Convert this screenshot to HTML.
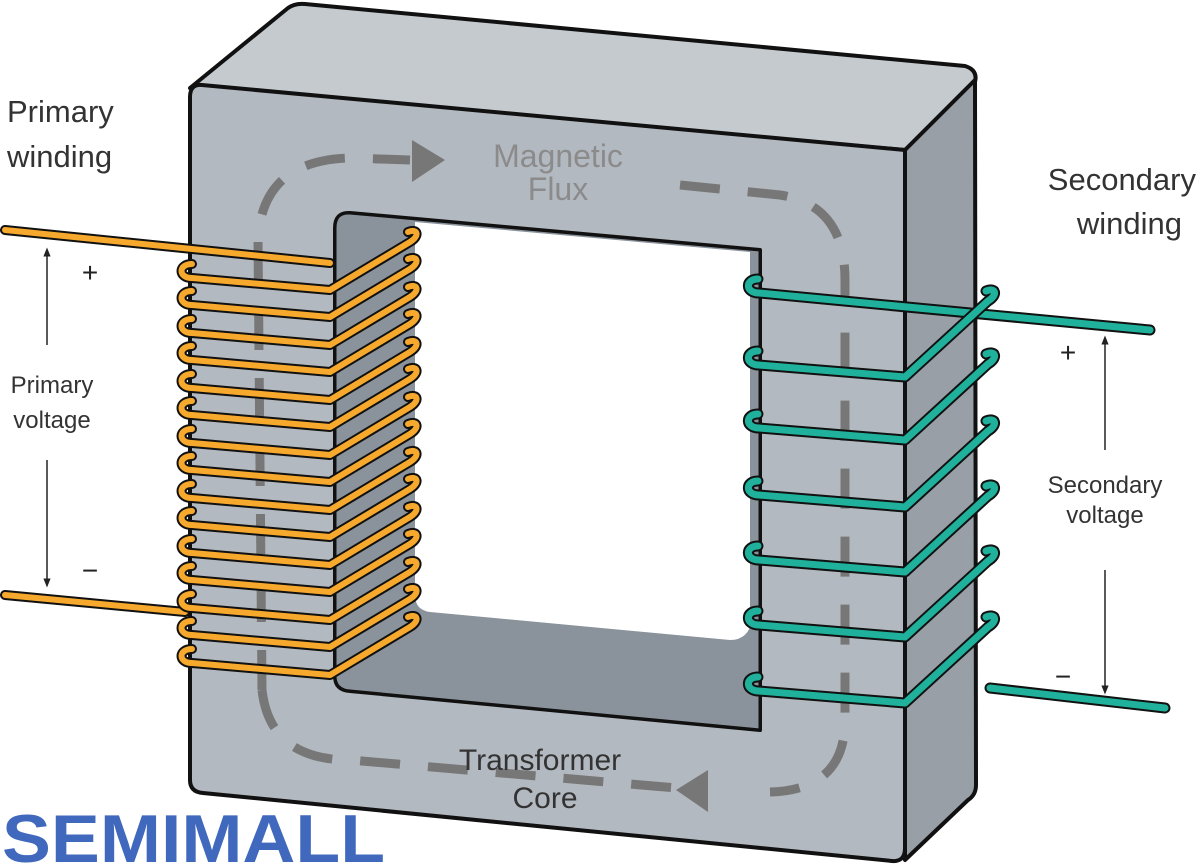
<!DOCTYPE html>
<html><head><meta charset="utf-8"><style>
html,body{margin:0;padding:0;background:#fff;}
svg{display:block;}
text{font-family:"Liberation Sans",sans-serif;}
</style></head><body>
<svg width="1200" height="866" viewBox="0 0 1200 866" xmlns="http://www.w3.org/2000/svg">
<defs>
<marker id="ah" viewBox="0 0 10 10" refX="5" refY="5" markerWidth="6" markerHeight="8" orient="auto"><path d="M0,1 L10,5 L0,9 Z" fill="#222"/></marker>
<g id="pt">
 <path d="M192,-6 C178,-6 178,8 192,8 L330,20 L410,-28 C420,-34 418,-42 408,-38" fill="none" stroke="#111" stroke-width="10" stroke-linejoin="round" stroke-linecap="round"/>
 <path d="M192,-6 C178,-6 178,8 192,8 L330,20 L410,-28 C420,-34 418,-42 408,-38" fill="none" stroke="#f6a92d" stroke-width="6" stroke-linejoin="round" stroke-linecap="round"/>
</g>
<g id="st">
 <path d="M758,-6 C745,-6 745,8 759,8 L905,20 L988,-56 C998,-62 996,-70 986,-66" fill="none" stroke="#111" stroke-width="11" stroke-linejoin="round" stroke-linecap="round"/>
 <path d="M758,-6 C745,-6 745,8 759,8 L905,20 L988,-56 C998,-62 996,-70 986,-66" fill="none" stroke="#1fb19b" stroke-width="7" stroke-linejoin="round" stroke-linecap="round"/>
</g>
</defs>
<path d="M190,88 L288,8 Q295,3 305,4 L965,66 Q978,70 975,82 L905,150 Z" fill="#c5cacf" stroke="#111" stroke-width="4" stroke-linejoin="round"/>
<path d="M905,150 L975,80 L976,785 Q976,795 968,800 L905,860 Z" fill="#989fa7" stroke="#111" stroke-width="4" stroke-linejoin="round"/>
<path fill-rule="evenodd" d="M202,85 L905,150 L905,848 Q905,862 892,861 L203,793 Q190,792 190,780 L190,97 Q190,84 202,85 Z M350,213 Q335,212 335,228 L335,676 Q335,690 350,691 L760,730 L760,250 Z" fill="#b3b9c0" stroke="#111" stroke-width="4" stroke-linejoin="round"/>
<path d="M335,228 Q335,212 350,213 L760,250 L760,730 L350,691 Q335,690 335,676 Z" fill="#8a929b" stroke="#111" stroke-width="3"/>
<path d="M415,222 L750,252 L750,627 Q745,640 730,640 L430,612 Q415,610 415,595 Z" fill="#fff"/>
<path d="M262,690 L258,240 Q262,160 350,158 L410,160" fill="none" stroke="#777" stroke-width="9" stroke-dasharray="40,28"/>
<path d="M262,690 Q270,760 350,760 L700,790" fill="none" stroke="#777" stroke-width="9" stroke-dasharray="40,28"/>
<path d="M680,185 L780,195 Q845,205 845,280 L845,720 Q845,790 770,792" fill="none" stroke="#777" stroke-width="9" stroke-dasharray="40,28"/>
<path d="M412,140 L445,160 L412,182 Z" fill="#777"/>
<path d="M708,770 L676,790 L708,812 Z" fill="#777"/>
<text x="558" y="167" font-size="32" fill="#8b8b8b" text-anchor="middle">Magnetic</text>
<text x="558" y="200" font-size="32" fill="#8b8b8b" text-anchor="middle">Flux</text>
<text x="540" y="770" font-size="30" fill="#333" text-anchor="middle">Transformer</text>
<text x="545" y="808" font-size="30" fill="#333" text-anchor="middle">Core</text>
<path d="M5,230 L330,263 M5,595 L185,612" stroke="#111" stroke-width="10" stroke-linecap="round"/>
<path d="M5,230 L330,263 M5,595 L185,612" stroke="#f6a92d" stroke-width="6" stroke-linecap="round"/>
<use href="#pt" y="270"/><use href="#pt" y="297"/><use href="#pt" y="325"/><use href="#pt" y="352"/><use href="#pt" y="380"/>
<use href="#pt" y="407"/><use href="#pt" y="435"/><use href="#pt" y="462"/><use href="#pt" y="490"/><use href="#pt" y="517"/>
<use href="#pt" y="545"/><use href="#pt" y="572"/><use href="#pt" y="600"/><use href="#pt" y="627"/><use href="#pt" y="655"/>
<path d="M990,688 L1165,708" stroke="#111" stroke-width="11" stroke-linecap="round"/>
<path d="M990,688 L1165,708" stroke="#1fb19b" stroke-width="7" stroke-linecap="round"/>
<path d="M758,279 C745,279 745,293 759,293 L1150,330" fill="none" stroke="#111" stroke-width="11" stroke-linecap="round"/>
<path d="M758,279 C745,279 745,293 759,293 L1150,330" fill="none" stroke="#1fb19b" stroke-width="7" stroke-linecap="round"/>
<use href="#st" y="357"/><use href="#st" y="420"/><use href="#st" y="487"/><use href="#st" y="552"/><use href="#st" y="617"/><use href="#st" y="683"/>
<text x="7" y="122" font-size="31" fill="#333">Primary</text>
<text x="7" y="167" font-size="31" fill="#333">winding</text>
<text x="1196" y="190" font-size="31" fill="#333" text-anchor="end">Secondary</text>
<text x="1182" y="234" font-size="31" fill="#333" text-anchor="end">winding</text>
<text x="52" y="393" font-size="24" fill="#333" text-anchor="middle">Primary</text>
<text x="52" y="428" font-size="24" fill="#333" text-anchor="middle">voltage</text>
<text x="1105" y="493" font-size="24" fill="#333" text-anchor="middle">Secondary</text>
<text x="1105" y="523" font-size="24" fill="#333" text-anchor="middle">voltage</text>
<line x1="47" y1="345" x2="47" y2="252" stroke="#222" stroke-width="1.5" marker-end="url(#ah)"/>
<line x1="47" y1="460" x2="47" y2="583" stroke="#222" stroke-width="1.5" marker-end="url(#ah)"/>
<line x1="1105" y1="450" x2="1105" y2="340" stroke="#222" stroke-width="1.5" marker-end="url(#ah)"/>
<line x1="1105" y1="570" x2="1105" y2="690" stroke="#222" stroke-width="1.5" marker-end="url(#ah)"/>
<text x="90" y="282" font-size="28" fill="#222" text-anchor="middle">+</text>
<text x="90" y="580" font-size="28" fill="#222" text-anchor="middle">−</text>
<text x="1068" y="362" font-size="28" fill="#222" text-anchor="middle">+</text>
<text x="1063" y="686" font-size="28" fill="#222" text-anchor="middle">−</text>
<text x="2" y="862" font-size="68" font-weight="bold" fill="#4068bd" textLength="383" lengthAdjust="spacingAndGlyphs">SEMIMALL</text>
</svg>
</body></html>
